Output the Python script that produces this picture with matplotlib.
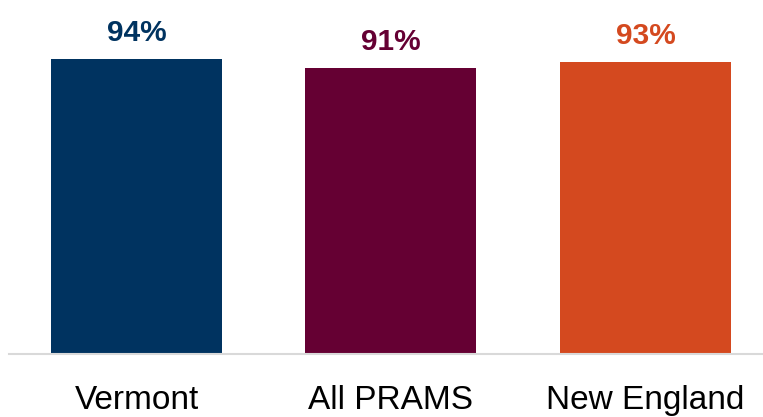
import numpy as np
import matplotlib.pyplot as plt

# Share of respondents by region
regions = ["Vermont", "All PRAMS", "New England"]
values = [94, 91, 93]
colors = ["#003360", "#650033", "#D4491F"]

fig = plt.figure(figsize=(7.63, 4.17), dpi=100)
ax = fig.add_axes([9 / 763, 63 / 417, 754 / 763, 354 / 417])

x = np.arange(len(regions))
ax.bar(x, values, width=0.672, color=colors)

# Value labels above each bar
for xi, v, c in zip(x, values, colors):
    ax.annotate(f"{v}%", (xi, v), xytext=(0, 13), textcoords="offset points",
                ha="center", va="baseline", fontsize=21.5, fontweight="bold",
                color=c, family="Liberation Sans")

ax.set_xlim(-0.501, 2.462)
ax.set_ylim(0, 112.7)
ax.set_xticks(x)
ax.set_xticklabels(regions, fontsize=24, family="Liberation Sans")
ax.tick_params(axis="x", length=0, pad=22)
ax.set_yticks([])

for side in ["top", "right", "left"]:
    ax.spines[side].set_visible(False)
ax.spines["bottom"].set_color("#d9d9d9")
ax.spines["bottom"].set_linewidth(1.5)

fig.savefig("out.png", dpi=100)
